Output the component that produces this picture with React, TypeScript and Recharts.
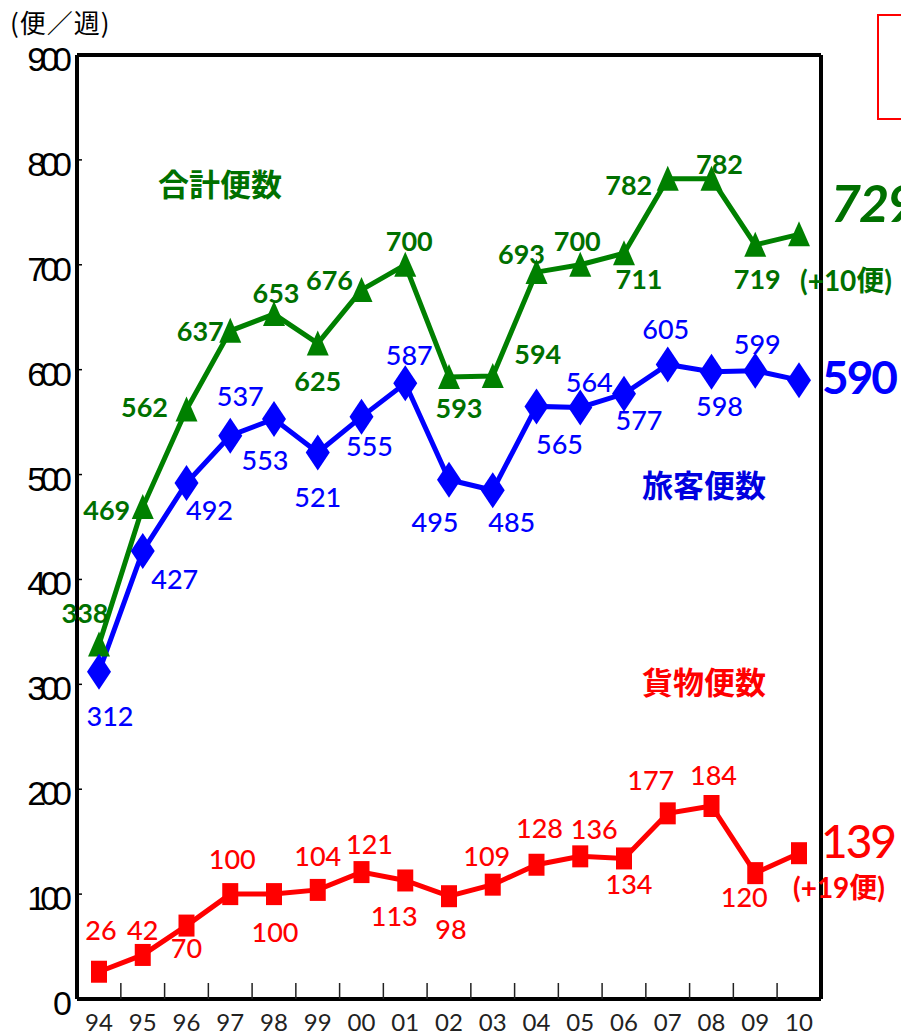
import React from "react";
import {
  LineChart,
  Line,
  XAxis,
  YAxis,
  CartesianGrid,
  ReferenceLine,
  LabelList,
} from "recharts";

const years = ["94", "95", "96", "97", "98", "99", "00", "01", "02", "03", "04", "05", "06", "07", "08", "09", "10"];
const totalFlights = [338, 469, 562, 637, 653, 625, 676, 700, 593, 594, 693, 700, 711, 782, 782, 719, 729];
const passengerFlights = [312, 427, 492, 537, 553, 521, 555, 587, 495, 485, 565, 564, 577, 605, 598, 599, 590];
const cargoFlights = [26, 42, 70, 100, 100, 104, 121, 113, 98, 109, 128, 136, 134, 177, 184, 120, 139];
const yTicks = [0, 100, 200, 300, 400, 500, 600, 700, 800, 900];

const totalChange = "(+10便)";
const cargoChange = "(+19便)";

// where each value label sits relative to its point (dx, dy)
const totalLabelOffsets = [
  [-14, -32], [-36, 2], [-42, -3], [-30, 0], [2, -22], [0, 37], [-32, -10], [4, -24], [10, 30],
  [45, -22], [-15, -19], [-3, -24], [15, 25], [-39, 6], [8, -15], [2, 34], [0, 0],
];
const passengerLabelOffsets = [
  [11, 44], [32, 27], [23, 27], [10, -40], [-9, 41], [0, 44], [8, 29], [4, -29], [-14, 42],
  [19, 31], [23, 37], [9, -26], [15, 26], [-2, -36], [8, 34], [2, -27], [0, 0],
];
const cargoLabelOffsets = [
  [2, -42], [0, -25], [0, 22], [2, -36], [1, 37], [0, -34], [8, -29], [-11, 35], [2, 32],
  [-6, -29], [3, -37], [14, -28], [5, 25], [-17, -34], [2, -32], [-11, 23], [0, 0],
];

const data = years.map((year, i) => ({
  year,
  total: totalFlights[i],
  passenger: passengerFlights[i],
  cargo: cargoFlights[i],
}));

const GREEN = "#008000";
const GREEN_TEXT = "#007000";
const BLUE = "#0000ff";
const RED = "#ff0000";
const LABEL_FONT = "Lato, 'Noto Sans', sans-serif";
const CJK_FONT = "'Noto Sans CJK JP', sans-serif";

const last = years.length - 1;
const HALF_STEP = 21.9;

const TriangleDot = (props: any) => {
  const { cx, cy, index } = props;
  return (
    <polygon
      key={`tri-${index}`}
      points={`${cx},${cy - 13} ${cx + 11},${cy + 12} ${cx - 11},${cy + 12}`}
      fill={GREEN}
    />
  );
};

const DiamondDot = (props: any) => {
  const { cx, cy, index } = props;
  return (
    <polygon
      key={`dia-${index}`}
      points={`${cx},${cy - 18} ${cx + 12},${cy} ${cx},${cy + 18} ${cx - 12},${cy}`}
      fill={BLUE}
    />
  );
};

const SquareDot = (props: any) => {
  const { cx, cy, index } = props;
  return <rect key={`sq-${index}`} x={cx - 8} y={cy - 11} width={16} height={22} fill={RED} />;
};

interface EndLabel {
  dx: number;
  dy: number;
  size: number;
  italic?: boolean;
  weight: number;
  note?: string;
  noteDx?: number;
  noteDy?: number;
}

const makeLabel =
  (offsets: number[][], color: string, weight: number, end: EndLabel) =>
  (props: any) => {
    const { x, y, value, index } = props;
    if (index === last) {
      return (
        <g key={`end-${color}`}>
          <text
            x={x + end.dx}
            y={y + end.dy}
            textAnchor="middle"
            dominantBaseline="central"
            fill={color}
            fontSize={end.size}
            fontWeight={end.weight}
            fontStyle={end.italic ? "italic" : "normal"}
            fontFamily={LABEL_FONT}
            letterSpacing={-2}
          >
            {value}
          </text>
          {end.note && (
            <text
              x={x + (end.noteDx || 0)}
              y={y + (end.noteDy || 0)}
              textAnchor="middle"
              dominantBaseline="central"
              fill={color}
              fontSize={28}
              fontWeight={700}
              fontFamily={`${LABEL_FONT}, ${CJK_FONT}`}
            >
              {end.note}
            </text>
          )}
        </g>
      );
    }
    const [dx, dy] = offsets[index];
    return (
      <text
        key={`lbl-${color}-${index}`}
        x={x + dx}
        y={y + dy}
        textAnchor="middle"
        dominantBaseline="central"
        fill={color}
        fontSize={27}
        fontWeight={weight}
        fontFamily={LABEL_FONT}
      >
        {value}
      </text>
    );
  };

const YTick = (props: any) => {
  const { x, y, payload } = props;
  return (
    <g>
      <line x1={x} x2={x + 5} y1={y} y2={y} stroke="#000" strokeWidth={1.5} />
      <text
        x={x - 11}
        y={y + 4}
        textAnchor="end"
        dominantBaseline="central"
        fill="#000"
        fontSize={34}
        fontFamily="'Liberation Sans', sans-serif"
        letterSpacing={-6}
      >
        {payload.value}
      </text>
    </g>
  );
};

const XTick = (props: any) => {
  const { x, y, payload, index } = props;
  return (
    <g>
      {index > 0 && (
        <line
          x1={x - HALF_STEP}
          x2={x - HALF_STEP}
          y1={y}
          y2={y - 16}
          stroke="#222"
          strokeWidth={1.5}
        />
      )}
      <text
        x={x}
        y={y + 22}
        textAnchor="middle"
        dominantBaseline="central"
        fill="#222"
        fontSize={24}
        fontFamily={LABEL_FONT}
      >
        {payload.value}
      </text>
    </g>
  );
};

const seriesTitle = (color: string): React.CSSProperties => ({
  position: "absolute",
  transform: "translate(-50%, -50%)",
  color,
  fontFamily: CJK_FONT,
  fontWeight: 700,
  fontSize: 31,
  lineHeight: 1,
  whiteSpace: "nowrap",
});

export default function App() {
  return (
    <div
      style={{
        position: "absolute",
        left: 0,
        top: 0,
        width: 901,
        height: 1035,
        overflow: "hidden",
        background: "#fff",
      }}
    >
      <LineChart width={901} height={1035} data={data} margin={{ top: 55, right: 0, left: 0, bottom: 0 }}>
        <CartesianGrid horizontal vertical={false} stroke="#222" strokeDasharray="8 6" strokeWidth={1.3} />
        <XAxis
          dataKey="year"
          height={36}
          interval={0}
          padding={{ left: 22, right: 22 }}
          tickSize={0}
          tickMargin={0}
          tickLine={false}
          axisLine={{ stroke: "#000", strokeWidth: 4 }}
          tick={<XTick />}
        />
        <YAxis
          yAxisId="left"
          width={77}
          domain={[0, 900]}
          ticks={yTicks}
          interval={0}
          tickSize={0}
          tickMargin={0}
          tickLine={false}
          axisLine={{ stroke: "#000", strokeWidth: 4 }}
          tick={<YTick />}
        />
        <YAxis
          yAxisId="right"
          orientation="right"
          width={80}
          domain={[0, 900]}
          tick={false}
          tickLine={false}
          axisLine={{ stroke: "#000", strokeWidth: 4 }}
        />
        <ReferenceLine yAxisId="left" y={900} stroke="#000" strokeWidth={4} />
        <Line
          yAxisId="left"
          dataKey="total"
          stroke={GREEN}
          strokeWidth={5}
          dot={(p: any) => <TriangleDot {...p} />}
          isAnimationActive={false}
        >
          <LabelList
            dataKey="total"
            content={makeLabel(totalLabelOffsets, GREEN_TEXT, 700, {
              dx: 74,
              dy: -32,
              size: 52,
              italic: true,
              weight: 700,
              note: totalChange,
              noteDx: 47,
              noteDy: 46,
            })}
          />
        </Line>
        <Line
          yAxisId="left"
          dataKey="passenger"
          stroke={BLUE}
          strokeWidth={5}
          dot={(p: any) => <DiamondDot {...p} />}
          isAnimationActive={false}
        >
          <LabelList
            dataKey="passenger"
            content={makeLabel(passengerLabelOffsets, BLUE, 500, {
              dx: 60,
              dy: -4,
              size: 46,
              weight: 700,
            })}
          />
        </Line>
        <Line
          yAxisId="left"
          dataKey="cargo"
          stroke={RED}
          strokeWidth={5}
          dot={(p: any) => <SquareDot {...p} />}
          isAnimationActive={false}
        >
          <LabelList
            dataKey="cargo"
            content={makeLabel(cargoLabelOffsets, RED, 500, {
              dx: 59,
              dy: -13,
              size: 46,
              weight: 500,
              note: cargoChange,
              noteDx: 40,
              noteDy: 34,
            })}
          />
        </Line>
      </LineChart>

      <div
        style={{
          position: "absolute",
          left: 10,
          top: 9,
          fontFamily: CJK_FONT,
          fontSize: 26,
          letterSpacing: 1,
          lineHeight: 1,
          color: "#000",
          whiteSpace: "nowrap",
        }}
      >
        (便／週)
      </div>
      <div style={{ ...seriesTitle(GREEN_TEXT), left: 220, top: 182 }}>合計便数</div>
      <div style={{ ...seriesTitle("#0000e0"), left: 704, top: 483 }}>旅客便数</div>
      <div style={{ ...seriesTitle(RED), left: 704, top: 680 }}>貨物便数</div>
      <div
        style={{
          position: "absolute",
          left: 877,
          top: 14,
          width: 60,
          height: 106,
          border: "2px solid #ff0000",
          boxSizing: "border-box",
        }}
      />
    </div>
  );
}
